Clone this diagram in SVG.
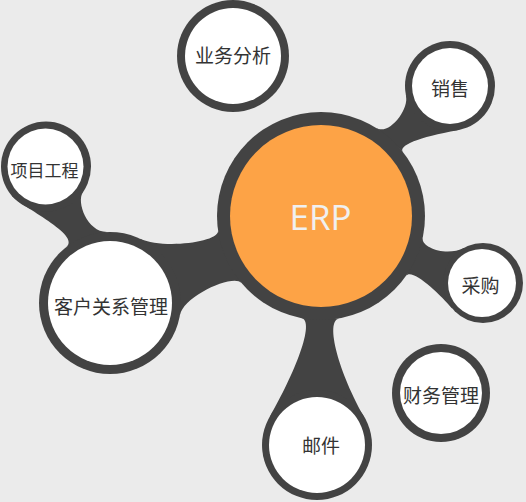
<svg xmlns="http://www.w3.org/2000/svg" width="526" height="502" viewBox="0 0 526 502">
<style>
.ring{fill:#434343}
.inner{fill:#ffffff}
.conn{fill:#434343}
.label{font-family:"Noto Sans CJK SC","Noto Sans",sans-serif;font-size:19px;fill:#333333;text-anchor:middle}
.erp{font-family:"Open Sans","Noto Sans",sans-serif;font-size:35px;fill:#f0f0f0;text-anchor:middle}
</style>
<rect width="526" height="502" fill="#ebebeb"/>
<g id="connectors">
<path class="conn" d="M376.1,127.8 C388.8,135.8 409.1,110.1 406,95.4 L457.8,130.3 C418.4,137.3 398,145.7 403,152 Z"/>
<path class="conn" d="M218,230.5 C219.7,242.4 162.7,249.3 140,238.7 L179.9,315.3 C183.4,295.6 233.6,273.6 241.3,282.8 Z"/>
<path class="conn" d="M11.5,195.4 C21.1,206.9 82.1,234.8 66.3,247.1 L107.5,232 C87.5,232.7 76,202.1 82.9,192.3 Z"/>
<path class="conn" d="M422.7,237.6 C420.6,247.4 446.5,257.1 464.2,247.7 L452.4,308.7 C439.5,293.4 411.9,267.5 406.2,275.7 Z"/>
<path class="conn" d="M301.2,318.1 C315.9,321 294.4,374.2 269.4,417.5 L364.6,417.5 C339.6,374.2 324.3,321 339.1,318.4 Z"/>
</g>
<g id="erp">
<circle class="ring" cx="321" cy="216" r="104"/>
<circle cx="321" cy="216" r="91" fill="#fda346"/>
<text class="erp" x="320.5" y="230">ERP</text>
</g>
<g id="yewufenxi">
<circle class="ring" cx="233" cy="56" r="56"/>
<circle class="inner" cx="233" cy="56" r="48"/>
<text class="label" x="233" y="62.5">业务分析</text>
</g>
<g id="xiaoshou">
<circle class="ring" cx="450" cy="86" r="45"/>
<circle class="inner" cx="450" cy="86" r="38"/>
<text class="label" x="450" y="95.5">销售</text>
</g>
<g id="xiangmugongcheng">
<circle class="ring" cx="46" cy="166.5" r="45"/>
<circle class="inner" cx="45.5" cy="166.5" r="38"/>
<text class="label" x="44.5" y="176.5" style="font-size:17px">项目工程</text>
</g>
<g id="kehuguanxiguanli">
<circle class="ring" cx="110" cy="303" r="71"/>
<circle class="inner" cx="110" cy="303" r="62"/>
<text class="label" x="111" y="313.5">客户关系管理</text>
</g>
<g id="caigou">
<circle class="ring" cx="483" cy="283" r="40"/>
<circle class="inner" cx="482" cy="283" r="34"/>
<text class="label" x="480.5" y="292.5">采购</text>
</g>
<g id="caiwuguanli">
<circle class="ring" cx="441" cy="393" r="49"/>
<circle class="inner" cx="441" cy="393" r="41"/>
<text class="label" x="441" y="402.5">财务管理</text>
</g>
<g id="youjian">
<circle class="ring" cx="317" cy="445" r="55"/>
<circle class="inner" cx="317" cy="445" r="48"/>
<text class="label" x="321" y="452.5">邮件</text>
</g>
</svg>
